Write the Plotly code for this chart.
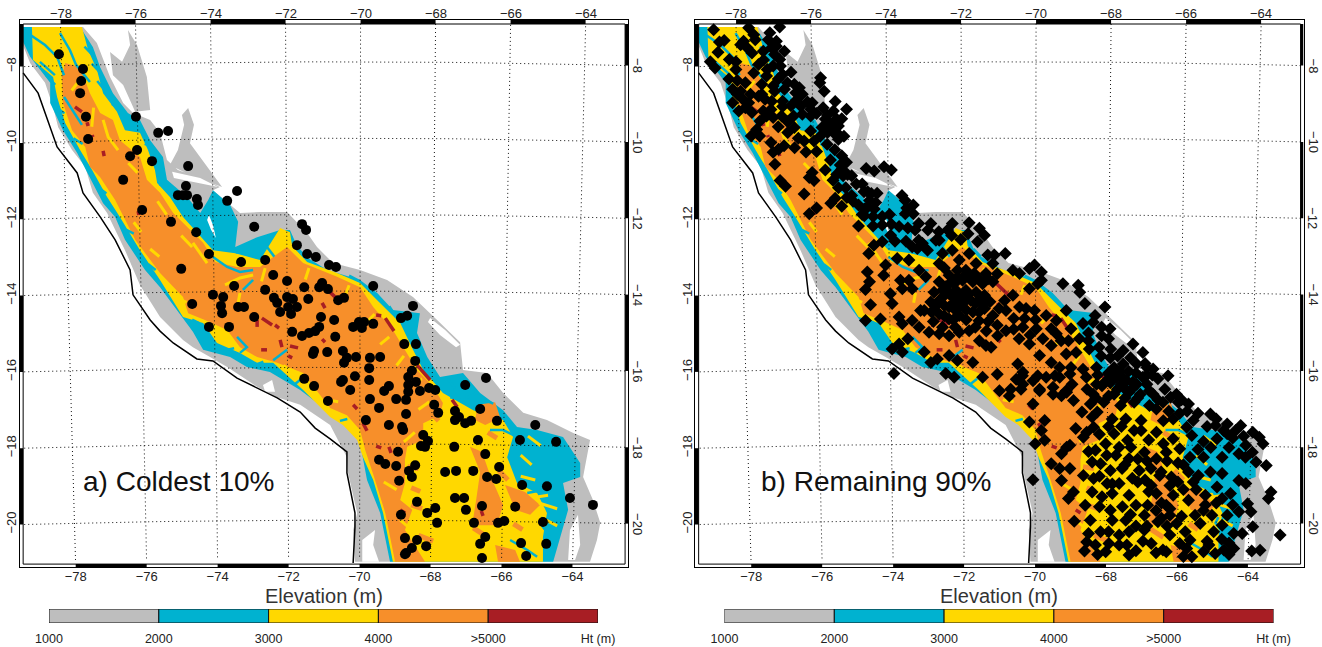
import plotly.graph_objects as go

W, H = 1322, 647
LON_TICKS = [-78, -76, -74, -72, -70, -68, -66, -64]
LAT_TICKS = [-8, -10, -12, -14, -16, -18, -20]
LEVELS = [1000, 2000, 3000, 4000, 5000, 6000]
LEVEL_LABELS = ["1000", "2000", "3000", "4000", ">5000", "Ht (m)"]
COLORS = {"gray": "#BEBEBE", "blue": "#00B2D0", "yellow": "#FFD800", "orange": "#F78F2A", "red": "#A81E24"}

GRAY = [(-79.26,-7.09),(-77.59,-7.09),(-77.21,-7.51),(-76.85,-8.40),(-76.49,-9.08),(-76.22,-9.34),(-75.75,-9.52),(-75.48,-9.86),(-75.29,-10.57),(-74.99,-10.83),(-74.25,-11.09),(-73.84,-11.28),(-74.03,-11.36),(-73.29,-11.96),(-72.74,-11.93),(-72,-11.93),(-71.45,-12.48),(-71.18,-12.85),(-70.74,-13.27),(-70,-13.45),(-69.26,-13.71),(-68.55,-14.16),(-67.89,-14.76),(-67.26,-15.34),(-67.18,-16.07),(-66.52,-16.15),(-66.08,-16.67),(-65.53,-17.19),(-64.88,-17.38),(-64.16,-17.72),(-63.70,-17.90),(-63.78,-18.35),(-63.89,-18.87),(-63.62,-19.47),(-63.42,-20.07),(-63.51,-20.52),(-63.70,-21.09),(-70.14,-21.09),(-70.19,-20.26),(-70.08,-19.81),(-70.33,-18.76),(-70.36,-18.35),(-70.82,-17.51),(-71.64,-16.98),(-72.27,-16.78),(-72.82,-16.51),(-73.64,-15.99),(-74.11,-15.73),(-74.58,-15.47),(-74.85,-15.28),(-75.48,-14.68),(-76.03,-13.84),(-76.44,-12.93),(-76.93,-11.96),(-77.32,-11.43),(-77.53,-10.75),(-77.89,-10.31),(-78.27,-9.71),(-78.41,-9.18),(-78.63,-8.55),(-79.04,-8.03),(-79.26,-7.51)]
GRAY_NORTH = [(-76.36,-7.17),(-76.11,-7.56),(-75.84,-8.40),(-75.75,-9.26),(-76.16,-9.31),(-76.49,-8.61),(-76.77,-8.35),(-76.85,-7.74),(-76.52,-8.0),(-76.30,-7.56)]
GRAY_SPIKE = [(-74.71,-9.21),(-74.55,-9.65),(-74.66,-10.13),(-74.19,-10.75),(-73.78,-11.28),(-74.66,-10.96),(-75.21,-10.70),(-74.99,-10.31),(-74.82,-9.65),(-74.88,-9.39)]
BARE_1 = [(-75.15,-10.88),(-74.38,-11.04),(-73.89,-11.28),(-74.44,-11.17),(-75.10,-11.04)]
BARE_2 = [(-74.14,-12.01),(-74.03,-12.27),(-73.95,-12.61),(-74.08,-12.40),(-74.19,-12.14)]
BARE_3 = [(-68.08,-14.71),(-67.67,-15.02),(-67.26,-15.41),(-67.37,-15.47),(-67.81,-15.15),(-68.14,-14.81)]
BARE_4 = [(-69.94,-20.52),(-69.59,-20.26),(-69.64,-20.65),(-69.48,-21.09),(-69.94,-21.09)]
BARE_5 = [(-72.66,-16.46),(-72.41,-16.33),(-72.33,-16.64),(-72.60,-16.64)]
BARE_6 = [(-64.25,-20.26),(-64.03,-19.86),(-63.97,-20.65),(-64.11,-21.04),(-64.30,-21.04)]
BLUE = [(-79.23,-7.09),(-77.67,-7.09),(-77.32,-7.61),(-77.12,-8.14),(-76.77,-8.82),(-76.36,-9.34),(-76.03,-9.52),(-75.75,-10.05),(-75.40,-10.49),(-75.34,-10.83),(-75.29,-11.09),(-74.74,-11.54),(-74.38,-11.96),(-74.16,-11.62),(-74.03,-11.36),(-73.56,-11.75),(-73.34,-12.19),(-73.42,-12.85),(-72.82,-12.59),(-72.19,-12.40),(-71.92,-12.40),(-71.64,-13.01),(-70.90,-13.45),(-70,-13.71),(-69.53,-14.05),(-69.10,-14.50),(-68.36,-14.58),(-68.44,-15.10),(-68.16,-15.73),(-67.81,-16.25),(-67.18,-16.15),(-66.71,-16.67),(-66.08,-17.12),(-65.70,-17.56),(-65.15,-17.64),(-64.44,-17.82),(-63.97,-18.50),(-63.97,-18.87),(-64.44,-19.03),(-64.30,-19.73),(-64.52,-20.44),(-64.71,-21.09),(-69.18,-21.09),(-69.45,-19.81),(-69.81,-18.95),(-70,-17.98),(-70.36,-17.51),(-70.82,-17.19),(-71.64,-16.59),(-72.47,-16.12),(-73.10,-15.99),(-73.56,-15.73),(-74.30,-15.54),(-74.58,-15.07),(-75.48,-13.90),(-75.89,-13.45),(-76.44,-12.66),(-76.71,-12.06),(-77.04,-11.70),(-77.40,-11.02),(-77.75,-10.39),(-78.14,-9.79),(-78.49,-9.08),(-78.49,-8.55),(-79.04,-7.87),(-79.23,-7.48)]
YELLOW = [(-78.99,-7.09),(-77.62,-7.09),(-77.45,-7.69),(-77.21,-8.21),(-77.04,-8.82),(-76.66,-9.31),(-76.44,-9.79),(-76.03,-9.86),(-75.81,-10.31),(-75.62,-10.83),(-75.56,-11.17),(-75.21,-11.54),(-74.85,-12.06),(-74.03,-12.93),(-73.42,-13.01),(-72.74,-13.19),(-72.19,-12.35),(-71.92,-12.46),(-71.86,-12.82),(-71.45,-13.24),(-70.63,-13.53),(-70,-13.79),(-69.53,-14.24),(-68.90,-14.84),(-68.55,-15.54),(-68.27,-16.07),(-67.73,-16.67),(-66.90,-17.12),(-66.08,-17.38),(-65.81,-17.82),(-65.97,-18.35),(-65.70,-19.03),(-65.15,-19.29),(-64.88,-19.81),(-64.99,-20.44),(-64.99,-21.09),(-69.10,-21.09),(-69.37,-19.81),(-69.64,-18.95),(-69.92,-18.35),(-70.08,-17.90),(-70.47,-17.51),(-70.82,-17.30),(-71.56,-16.59),(-72.38,-15.88),(-72.82,-15.88),(-73.29,-15.62),(-73.92,-15.36),(-74.30,-14.84),(-74.85,-14.68),(-75.48,-13.71),(-76.03,-12.93),(-76.58,-12.06),(-76.93,-11.54),(-77.34,-10.83),(-77.67,-10.31),(-78.08,-9.60),(-78.30,-8.92),(-78.41,-8.40),(-78.96,-7.95)]
ORANGE_MAIN = [(-78.08,-8.03),(-77.67,-8.14),(-77.40,-8.82),(-77.12,-9.34),(-76.77,-9.52),(-76.58,-10.05),(-76.03,-10.49),(-75.84,-11.09),(-75.48,-11.43),(-75.12,-11.96),(-74.30,-12.74),(-73.97,-13.24),(-73.37,-13.37),(-72.74,-13.37),(-72.38,-13.11),(-72,-12.85),(-71.56,-13.27),(-70.63,-13.63),(-70,-13.90),(-69.64,-14.42),(-69.10,-15.02),(-68.82,-15.47),(-68.44,-16.07),(-68,-16.51),(-67.73,-16.93),(-67.81,-17.25),(-68.27,-17.46),(-68.27,-17.90),(-68.71,-18.08),(-68.77,-18.42),(-68.77,-19.03),(-68.90,-19.47),(-68.57,-19.73),(-68.77,-20.26),(-68.22,-21.09),(-69.04,-21.09),(-69.31,-19.81),(-69.59,-18.95),(-69.86,-18.16),(-70,-17.64),(-70.36,-17.25),(-70.82,-17.06),(-71.56,-16.15),(-72.27,-15.88),(-72.82,-15.73),(-73.29,-15.47),(-73.64,-15.02),(-74.25,-14.76),(-74.71,-14.58),(-74.85,-14.16),(-75.48,-13.53),(-76.16,-12.66),(-76.49,-12.06),(-76.71,-11.62),(-77.12,-11.02),(-77.40,-10.75),(-77.53,-10.23),(-77.89,-9.79),(-78.14,-9.08),(-78.17,-8.40)]
ORANGE_SOUTH = [(-66.99,-18.08),(-66.66,-18.21),(-66.44,-18.82),(-66.08,-19.60),(-66.25,-20.13),(-66.93,-20.13),(-66.82,-19.47),(-66.71,-18.74)]
ORANGE_EAST = [(-66.03,-19.08),(-65.48,-19.26),(-65.07,-19.60),(-65.34,-19.86),(-65.75,-19.73)]
ORANGE_NE = [(-66.77,-16.98),(-66.30,-16.91),(-66.16,-17.32),(-66.57,-17.51),(-66.85,-17.38)]
ORANGE_SE = [(-66.30,-20.65),(-65.75,-20.78),(-65.62,-21.09),(-66.22,-21.09)]
BLUE_VALLEYS = [
    [(-79.10,-7.25),(-78.63,-7.56),(-78.30,-7.87),(-78.11,-8.35)],
    [(-78.22,-7.25),(-77.95,-7.69),(-77.78,-8.08),(-77.40,-8.53)],
    [(-78.77,-8.0),(-78.36,-8.35)],
    [(-78.11,-8.92),(-77.89,-9.26),(-77.62,-9.65)],
    [(-74.03,-13.11),(-73.64,-13.37),(-73.29,-13.50),(-72.93,-13.45)],
    [(-72.93,-13.71),(-73.21,-13.97)],
    [(-73.37,-15.20),(-73.10,-15.47),(-73.29,-15.62)],
    [(-72,-15.54),(-72.38,-15.81)],
    [(-67.53,-16.78),(-67.18,-16.85),(-66.79,-16.67)],
    [(-66.44,-17.64),(-66.08,-17.64),(-65.70,-17.82)],
    [(-65.89,-20.52),(-65.42,-20.78),(-65.15,-20.96)],
    [(-64.99,-19.92),(-65.07,-20.07),(-64.79,-20.44)],
    [(-65.42,-19.29),(-64.99,-19.21)],
    [(-77.55,-7.6),(-77.3,-7.85)],[(-77.35,-8.05),(-77.1,-8.3)],[(-77.2,-8.5),(-76.95,-8.8)],[(-76.8,-9.1),(-76.55,-9.25)],
    [(-76.3,-9.65),(-76.05,-9.7)],[(-75.9,-10.15),(-75.65,-10.25)],[(-75.7,-10.6),(-75.5,-10.7)],[(-75.5,-11.2),(-75.25,-11.3)],
    [(-75.1,-11.6),(-74.95,-11.85)],[(-74.3,-12.3),(-74.05,-12.55)],[(-73.65,-12.85),(-73.35,-13.0)],[(-72.55,-12.85),(-72.35,-13.1)],
    [(-71.7,-12.9),(-71.5,-13.1)],[(-70.3,-13.6),(-70.0,-13.75)],[(-69.2,-14.4),(-69.0,-14.7)],[(-68.7,-15.0),(-68.55,-15.3)],
    [(-68.35,-15.7),(-68.2,-16.0)],[(-67.6,-16.3),(-67.4,-16.55)],[(-66.6,-16.85),(-66.35,-16.95)],
    [(-78.6,-8.35),(-78.35,-8.6)],[(-78.3,-9.2),(-78.1,-9.35)],[(-77.85,-10.0),(-77.6,-10.15)],[(-77.15,-11.3),(-76.95,-11.45)],
    [(-76.4,-12.4),(-76.2,-12.5)],[(-75.8,-13.3),(-75.6,-13.45)],[(-74.6,-14.75),(-74.4,-14.85)],[(-73.7,-15.55),(-73.45,-15.5)],
    [(-72.9,-15.95),(-72.65,-15.85)],[(-71.8,-16.45),(-71.6,-16.3)],[(-70.55,-17.4),(-70.35,-17.35)],
]
YELLOW_RIDGES = [
    [(-77.04,-9.52),(-76.90,-9.97),(-76.63,-10.31)],
    [(-74.58,-12.74),(-74.19,-13.27)],
    [(-73.70,-13.84),(-73.29,-13.66),(-72.93,-13.58)],
    [(-73.29,-14.05),(-73.34,-14.31)],
    [(-73.78,-15.28),(-73.42,-15.41)],
    [(-65.2,-19.4),(-64.85,-19.35)],[(-65.1,-19.55),(-64.6,-19.7)],[(-64.9,-20.0),(-64.6,-20.15)],[(-65.4,-17.8),(-65.05,-18.05)],
    [(-65.6,-18.3),(-65.3,-18.55)],[(-65.6,-18.85),(-65.2,-18.95)],
    [(-77.7,-8.5),(-77.9,-8.75)],[(-77.3,-9.2),(-77.35,-9.7)],[(-76.35,-10.65),(-76.1,-10.9)],[(-75.55,-11.65),(-75.3,-12.0)],
    [(-74.9,-12.55),(-74.6,-12.85)],[(-75.75,-12.9),(-75.5,-13.1)],[(-76.2,-12.2),(-76,-12.45)],[(-75.0,-14.2),(-74.75,-14.3)],
    [(-72.6,-13.4),(-72.7,-13.75)],[(-71.4,-13.4),(-71.5,-13.7)],[(-70.3,-13.85),(-70.4,-14.1)],[(-69.6,-14.6),(-69.85,-14.85)],
    [(-69.2,-15.2),(-69.45,-15.4)],[(-68.8,-15.7),(-69.0,-15.95)],[(-68.3,-16.3),(-68.6,-16.4)],[(-72.1,-15.95),(-71.9,-16.1)],
    [(-70.9,-16.85),(-70.6,-16.9)],[(-68.5,-17.7),(-68.8,-17.95)],[(-68.1,-16.9),(-68.4,-17.1)],[(-69.35,-19.0),(-69.0,-19.2)],
    [(-68.9,-20.0),(-68.65,-20.2)],
]
ORANGE_TONGUES = [
    [(-68.1,-17.15),(-67.85,-17.4)],[(-68.6,-19.6),(-68.3,-19.7)],[(-68.4,-20.4),(-68.0,-20.55)],[(-68.7,-18.6),(-68.4,-18.65)],
    [(-68.6,-19.15),(-68.35,-19.25)],[(-66.5,-17.7),(-66.25,-17.85)],[(-66.9,-20.2),(-66.5,-20.45)],[(-65.8,-20.1),(-65.55,-20.25)],
    [(-66.2,-18.7),(-65.95,-18.95)],
]
RED_PATCHES = [
    [(-77.81,-9.18),(-77.62,-9.31)],[(-77.48,-9.58),(-77.45,-9.68)],[(-77.34,-9.92),(-77.32,-9.97)],
    [(-77.04,-10.33),(-77.01,-10.47)],[(-76.08,-11.91),(-76.06,-12.01)],[(-72.69,-14.71),(-72.41,-14.89)],
    [(-72.82,-14.76),(-72.82,-14.94)],[(-72.19,-15.28),(-72.14,-15.47)],[(-71.92,-15.44),(-71.70,-15.49)],
    [(-72.71,-15.54),(-72.55,-15.54)],[(-71.97,-15.70),(-71.86,-15.75)],[(-71.15,-13.74),(-70.68,-14.16)],
    [(-69.31,-14.71),(-69.07,-15.05)],[(-69.56,-14.63),(-69.42,-14.65)],[(-68.44,-15.94),(-68.08,-16.33)],
    [(-72.33,-14.89),(-72.22,-14.97)],[(-71.04,-15.26),(-70.96,-15.34)],[(-71.04,-14.31),(-70.96,-14.45)],
    [(-67.48,-16.85),(-67.34,-17.04)],[(-69.92,-17.46),(-69.81,-17.66)],[(-69.21,-18.08),(-69.15,-18.24)],
    [(-69.56,-18.06),(-69.42,-18.11)],[(-68.90,-19.73),(-68.77,-19.81)],[(-70.19,-16.98),(-70.08,-17.09)],
    [(-66.68,-19.76),(-66.63,-19.89)],
]
COAST = [(-79.23,-8.29),(-78.82,-8.82),(-78.30,-10.23),(-77.75,-10.91),(-77.59,-11.43),(-77.12,-12.06),(-76.71,-12.66),(-76.30,-13.45),(-76.22,-14.10),(-75.75,-14.76),(-75.48,-15.05),(-75.12,-15.36),(-74.47,-15.78),(-74.03,-15.83),(-73.37,-16.28),(-72.74,-16.59),(-72.27,-16.80),(-71.64,-17.17),(-71.23,-17.59),(-70.82,-17.87),(-70.36,-18.21),(-70.36,-18.76),(-70.14,-19.81),(-70.14,-20.18),(-70.19,-21.12)]

COLDEST = [(-78.25,-7.80),(-77.59,-8.19),(-77.64,-8.50),(-77.67,-8.82),(-77.51,-9.44),(-77.45,-10.02),(-76.14,-9.44),(-75.53,-9.86),(-75.26,-9.81),(-76.11,-10.31),(-76.30,-10.47),(-75.70,-10.60),(-74.71,-10.73),(-76.49,-11.09),(-74.77,-11.25),(-74.99,-11.49),(-74.85,-11.49),(-74.74,-11.49),(-74.47,-11.59),(-74.44,-11.75),(-73.64,-11.64),(-73.37,-11.38),(-75.97,-11.88),(-75.18,-12.19),(-74.49,-12.46),(-74.14,-13.03),(-74.90,-13.42),(-72.90,-12.32),(-71.59,-12.25),(-71.48,-12.40),(-71.73,-12.80),(-71.45,-13.03),(-71.21,-13.11),(-70.85,-13.32),(-70.66,-13.37),(-73.26,-13.24),(-72.60,-13.19),(-72.38,-13.58),(-72,-13.74),(-73.45,-13.87),(-72.60,-13.97),(-71.53,-13.90),(-71.04,-13.79),(-71.12,-13.90),(-70.88,-13.95),(-69.64,-13.87),(-74.03,-14.10),(-73.75,-14.16),(-73.81,-14.39),(-73.78,-14.58),(-74.60,-14.34),(-73.34,-14.42),(-73.18,-14.42),(-72.36,-14.18),(-72.27,-14.31),(-72,-14.16),(-71.84,-14.21),(-71.42,-14.21),(-70.60,-14.24),(-70.44,-14.18),(-71.97,-14.42),(-71.73,-14.42),(-72.19,-14.55),(-71.89,-14.60),(-72.90,-14.68),(-74.14,-14.94),(-73.59,-14.94),(-71.07,-14.68),(-70.71,-14.76),(-71.86,-15.07),(-71.59,-15.18),(-71.40,-15.10),(-71.23,-15.05),(-71.12,-14.94),(-70.19,-14.94),(-70.03,-14.81),(-69.89,-14.81),(-69.95,-14.97),(-69.64,-14.86),(-70.68,-15.20),(-68.55,-14.39),(-68.88,-14.71),(-68.71,-14.65),(-68.79,-15.39),(-68.47,-15.39),(-70.47,-15.57),(-71.26,-15.57),(-71.29,-15.65),(-70.90,-15.60),(-70.36,-15.75),(-70.44,-15.88),(-70.11,-15.73),(-69.73,-15.75),(-69.45,-15.73),(-69.75,-16.02),(-68.49,-15.83),(-68.58,-16.09),(-68.68,-16.25),(-70.14,-16.23),(-70.47,-16.33),(-70.52,-16.38),(-69.75,-16.33),(-71.53,-16.30),(-71.26,-16.49),(-68.47,-16.38),(-68.68,-16.46),(-69.21,-16.49),(-69.34,-16.62),(-70.27,-16.59),(-68.68,-16.64),(-68.36,-16.62),(-68.11,-16.54),(-67.94,-16.59),(-69.73,-16.83),(-70.88,-16.88),(-69.01,-16.83),(-68.74,-16.85),(-67.12,-16.46),(-66.55,-16.28),(-67.97,-16.98),(-67.86,-17.19),(-69.48,-17.06),(-68.74,-17.22),(-67.40,-17.14),(-67.29,-17.30),(-67.40,-17.38),(-67.12,-17.46),(-66.96,-17.40),(-66.71,-17.09),(-69.84,-17.38),(-69.21,-17.51),(-68.85,-17.56),(-68.82,-17.64),(-66.25,-17.40),(-65.20,-17.51),(-65.62,-17.90),(-64.63,-17.95),(-68.27,-17.77),(-68.14,-17.93),(-68.33,-18.06),(-68.22,-18.08),(-66.77,-17.90),(-67.42,-18.08),(-66.57,-18.27),(-68.96,-18.21),(-69.48,-18.42),(-69.31,-18.53),(-69.01,-18.58),(-68.49,-18.56),(-68.66,-18.71),(-68.58,-18.87),(-68.93,-18.97),(-67.67,-18.74),(-67.37,-18.71),(-66.90,-18.71),(-66.19,-18.61),(-66.52,-18.87),(-66.27,-18.92),(-65.56,-19.08),(-64.88,-19.11),(-64.25,-19.42),(-63.62,-19.60),(-68.44,-19.52),(-67.40,-19.42),(-67.15,-19.42),(-66.66,-19.63),(-65.75,-19.65),(-67.94,-19.68),(-67.10,-19.73),(-68.16,-19.81),(-68.88,-19.86),(-67.89,-20.07),(-66.88,-20.07),(-66.22,-20.07),(-66.05,-20.02),(-64.99,-20.05),(-66.57,-20.44),(-66.71,-20.62),(-65.59,-20.60),(-64.90,-20.62),(-68.77,-20.47),(-68.44,-20.52),(-68.19,-20.68),(-68.58,-20.73),(-68.74,-20.86),(-68.77,-20.89),(-65.45,-20.94),(-66.66,-20.99)]

REMAINING = [(-77.01,-7.09),(-78.82,-7.16),(-77.86,-7.11),(-77.72,-7.29),(-77.28,-7.24),(-77.68,-7.42),(-78.66,-7.48),(-78.53,-7.44),(-78.0,-7.46),(-78.08,-7.55),(-77.32,-7.42),(-77.10,-7.46),(-77.10,-7.59),(-77.23,-7.63),(-77.46,-7.72),(-77.9,-7.63),(-77.77,-7.77),(-78.7,-7.75),(-76.88,-7.72),(-77.15,-7.81),(-78.39,-7.94),(-78.21,-8.0),(-78.91,-8.0),(-78.78,-8.16),(-77.59,-8.07),(-77.72,-8.29),(-78.21,-8.2),(-77.01,-7.94),(-76.99,-8.11),(-77.19,-8.11),(-76.93,-8.33),(-76.70,-8.27),(-77.37,-8.37),(-78.17,-8.49),(-77.95,-8.55),(-77.5,-8.59),(-77.19,-8.63),(-76.61,-8.59),(-76.47,-8.68),(-75.89,-8.42),(-75.91,-8.55),(-75.79,-8.77),(-78.30,-8.72),(-78.17,-8.85),(-78.08,-8.77),(-77.81,-8.85),(-77.59,-8.90),(-77.15,-8.77),(-76.88,-8.72),(-76.57,-8.81),(-76.39,-8.85),(-75.49,-9.04),(-75.18,-9.24),(-75.82,-9.2),(-76.12,-9.07),(-78.30,-9.07),(-77.86,-9.07),(-77.41,-8.98),(-77.23,-9.03),(-76.93,-9.03),(-76.93,-9.17),(-76.43,-9.16),(-76.16,-9.24),(-78.13,-9.29),(-77.77,-9.33),(-77.46,-9.29),(-77.37,-9.42),(-77.19,-9.46),(-76.96,-9.42),(-76.63,-9.42),(-76.39,-9.37),(-76.16,-9.42),(-75.54,-9.29),(-75.31,-9.49),(-75.76,-9.50),(-75.62,-9.63),(-75.40,-9.68),(-76.79,-9.57),(-75.85,-9.72),(-76.61,-9.72),(-77.64,-9.77),(-76.16,-9.81),(-75.54,-9.85),(-76.79,-9.85),(-77.79,-9.94),(-77.56,-9.94),(-76.34,-10.07),(-76.07,-10.07),(-75.40,-10.03),(-77.25,-10.11),(-76.89,-10.2),(-75.71,-10.16),(-75.31,-10.46),(-77.19,-10.37),(-77.04,-10.29),(-76.29,-10.36),(-75.62,-10.57),(-75.18,-10.63),(-77.14,-10.68),(-75.76,-10.83),(-75.31,-10.81),(-74.64,-10.79),(-74.42,-10.86),(-74.15,-10.75),(-73.95,-10.83),(-76.12,-10.9),(-76.2,-11.03),(-76.07,-11.11),(-77.0,-11.11),(-76.85,-11.26),(-75.27,-10.98),(-75.04,-10.98),(-74.91,-11.2),(-76.34,-11.46),(-74.6,-11.4),(-74.34,-11.44),(-73.66,-11.5),(-73.57,-11.63),(-75.49,-11.57),(-75.61,-11.70),(-75.31,-11.78),(-75.04,-11.5),(-75.17,-11.55),(-74.55,-11.63),(-74.38,-11.68),(-74.69,-11.85),(-73.35,-11.75),(-73.53,-11.83),(-73.57,-11.98),(-73.35,-11.98),(-76.20,-11.98),(-76.0,-11.83),(-74.69,-12.03),(-74.42,-11.85),
(-74.2,-12.27),(-73.74,-12.31),(-73.2,-12.23),(-72.87,-12.23),(-71.82,-12.21),(-71.54,-12.36),(-71.4,-12.54),(-71.59,-12.71),(-72.64,-12.67),(-72.41,-12.4),(-72.28,-12.23),(-73.97,-12.54),(-73.38,-12.84),(-73.2,-12.67),(-72.73,-12.67),(-74.2,-12.71),(-74.43,-12.8),(-74.57,-13.02),(-73.24,-12.89),(-73.1,-12.75),(-72.96,-12.93),(-72.55,-13.02),(-72.28,-12.93),(-71.82,-13.02),(-71.31,-13.06),(-71.13,-13.06),(-70.83,-13.02),(-73.79,-13.15),(-73.47,-13.19),(-74.11,-13.32),(-73.19,-13.46),(-72.64,-13.28),(-72.09,-13.19),(-71.63,-13.28),(-71.17,-13.28),(-70.03,-13.32),(-70.17,-13.41),(-70.62,-13.46),(-70.44,-13.54),(-69.84,-13.5),(-69.84,-13.72),(-69.94,-13.81),(-69.25,-13.81),(-68.83,-13.85),(-68.79,-14.03),(-74.61,-13.5),(-74.16,-13.59),(-74.55,-13.76),(-74.66,-13.96),(-73.98,-14.07),(-73.7,-13.72),(-73.47,-13.72),(-73.65,-13.94),(-73.38,-13.94),(-73.01,-13.63),(-72.64,-13.76),(-72.37,-13.59),(-72.14,-13.46),(-71.91,-13.46),(-71.68,-13.54),(-71.36,-13.54),(-71.17,-13.76),(-71.45,-13.81),(-71.72,-13.76),(-72,-13.72),(-72.23,-13.81),(-72.46,-13.89),(-72.78,-14.03),(-72.18,-13.98),(-71.91,-13.98),(-71.63,-14.03),(-72,-14.16),(-72.28,-14.16),(-71.77,-14.25),(-72.05,-14.38),(-72.37,-14.42),(-72.64,-14.25),(-72.87,-14.29),(-73.05,-14.51),(-71.4,-14.11),(-70.85,-14.25),(-70.62,-14.11),(-70.17,-13.94),(-71.0,-14.46),(-70.44,-14.42),(-74.52,-14.36),(-73.93,-14.33),(-73.74,-14.68),(-73.15,-14.51),(-74.25,-14.73),(-74.66,-14.77),(-73.65,-14.86),(-73.38,-14.77),(-73.19,-14.95),(-72.64,-14.6),(-72.37,-14.73),(-72.09,-14.64),(-71.72,-14.55),(-71.4,-14.46),(-71.17,-14.64),(-70.81,-14.51),(-70.26,-14.46),(-70.03,-14.51),(-69.71,-14.64),(-69.43,-14.77),(-69.16,-14.51),(-68.65,-14.33),(-68.1,-14.42),(-68.37,-14.64),(-68.42,-14.82),(-68.19,-14.95),(-67.96,-14.99),(-68.19,-15.17),(-68.0,-15.25),(-69.03,-14.99),(-69.43,-15.12),(-69.57,-14.99),(-69.98,-14.99),(-70.35,-14.95),(-70.81,-15.04),(-71.04,-15.17),(-71.36,-15.43),(-71.22,-15.47),(-71.54,-15.3),(-71.82,-15.04),(-72.09,-15.08),(-72.37,-15.17),(-72.64,-15.12),(-72.92,-15.08),(-73.5,-15.25),(-73.74,-15.39),(-73.93,-15.52),(-73.65,-15.6),(-73.05,-15.6),(-72.69,-15.78),(-72.87,-15.87),(-72.37,-15.69),(-72.14,-15.82),(-71.72,-15.87),(-73.88,-16.16),(-72.46,-16.16),(-72.23,-16.26),(-71.05,-16.18),(-71.45,-16.26),(-70.49,-15.91),(-70.35,-16.13),(-70.17,-15.39),(-69.89,-15.69),(-69.57,-15.87),(-69.34,-16.0),(-69.57,-15.43),(-69.16,-15.65),(-68.89,-15.61),(-69.03,-16.0),(-68.53,-15.52),(-68.26,-15.47),(-67.94,-15.52),(-67.6,-15.56),(-67.33,-15.39),(-67.06,-15.61),(-66.78,-16.04),(-67.6,-15.91),(-67.23,-15.91),(-67.85,-16.0),(-68.33,-16.0),(-68.61,-16.26),(-68.33,-16.44),(-68.06,-16.35),(-67.78,-16.26),(-67.5,-16.35),(-67.23,-16.44),(-66.95,-16.44),(-67.06,-16.26),(-69.34,-16.26),(-69.0,-16.44),(-69.71,-16.26),(-70.07,-16.35),(-70.35,-16.44),(-70.53,-16.31),(-70.99,-16.61),(-70.72,-16.75),(-69.89,-16.61),(-69.52,-16.7),(-69.16,-16.61),(-68.42,-16.7),(-67.85,-16.7),(-67.5,-16.61),(-67.13,-16.7),(-66.78,-16.7),
(-66.37,-16.22),(-66.97,-16.22),(-66.65,-16.30),(-67.34,-16.39),(-67.62,-16.26),(-67.99,-16.17),(-69.06,-16.17),(-69.47,-16.22),(-69.94,-16.22),(-70.36,-16.22),(-70.68,-16.57),(-70.4,-16.57),(-69.89,-16.57),(-69.52,-16.52),(-69.15,-16.65),(-68.59,-16.57),(-68.18,-16.48),(-67.76,-16.57),(-67.44,-16.65),(-66.88,-16.61),(-66.46,-16.57),(-66.14,-16.7),(-65.81,-16.96),(-66.09,-16.91),(-66.51,-16.91),(-66.88,-17.0),(-67.30,-16.91),(-67.67,-17.0),(-68.13,-16.91),(-68.5,-16.96),(-68.96,-16.87),(-69.29,-16.74),(-70.07,-16.96),(-70.17,-17.43),(-69.75,-17.39),(-69.84,-17.65),(-68.73,-17.17),(-68.31,-17.17),(-67.9,-17.35),(-68.41,-17.57),(-68.45,-17.3),(-67.85,-17.74),(-67.53,-17.35),(-67.11,-17.39),(-66.69,-17.09),(-66.23,-17.35),(-65.68,-17.39),(-65.21,-17.22),(-65.86,-17.57),(-65.07,-17.52),(-64.75,-17.48),(-64.38,-17.52),(-64.52,-17.65),(-63.87,-17.83),(-63.77,-18),(-64.06,-18.22),(-63.68,-18.57),(-63.96,-18.48),(-64.24,-18.04),(-64.75,-17.74),(-65.03,-17.87),(-65.4,-17.94),(-65.72,-17.78),(-66.23,-17.87),(-66.69,-17.7),(-67.11,-17.65),(-67.48,-17.91),(-70.01,-18.0),(-69.75,-17.91),(-69.06,-18.04),(-68.69,-17.83),(-68.08,-18),(-68.36,-18.17),(-67.71,-18.09),(-67.39,-18.09),(-67.02,-18.22),(-66.42,-18.22),(-66.05,-18.13),(-65.77,-18.35),(-65.4,-18.35),(-64.89,-18.35),(-64.43,-18.26),(-69.29,-18.26),(-69.15,-18.09),(-68.45,-18.48),(-67.8,-18.3),(-67.44,-18.39),(-66.69,-18.39),(-69.57,-18.52),(-69.34,-18.65),(-69.06,-18.65),(-68.69,-18.83),(-68.22,-18.52),(-67.95,-18.7),(-67.63,-18.65),(-67.16,-18.7),(-66.84,-18.65),(-66.56,-18.74),(-66.28,-18.87),(-65.81,-18.74),(-65.54,-18.83),(-65.21,-18.74),(-64.89,-18.78),(-64.43,-18.96),(-64.24,-19.04),(-69.29,-18.96),(-68.41,-18.91),(-68.04,-19.04),(-67.71,-19.04),(-67.2,-19),(-66.83,-19.09),(-66.6,-18.83),(-66.32,-19.09),(-65.68,-19),(-65.03,-19.13),(-64.66,-19.3),(-63.55,-19.26),(-63.62,-19.43),(-70.07,-18.94),(-69.1,-19.43),(-68.96,-19.26),(-68.45,-19.26),(-68.18,-19.39),(-67.9,-19.3),(-67.44,-19.35),(-66.93,-19.61),(-66.69,-19.3),(-66.23,-19.35),(-65.81,-19.48),(-65.35,-19.35),(-64.89,-19.43),(-64.19,-19.57),(-64.43,-19.78),(-68.64,-19.61),(-67.95,-19.74),(-67.62,-19.65),(-67.25,-19.61),(-67.02,-19.87),(-66.42,-19.61),(-66.32,-19.7),(-66.32,-19.87),(-65.63,-19.87),(-65.17,-19.87),(-64.75,-19.87),(-64.1,-19.78),(-68.94,-20.03),(-68.5,-20),(-67.9,-20),(-67.53,-20),(-66.65,-20.04),(-66.14,-20.09),(-65.49,-20.09),(-64.89,-20.13),(-64.05,-20.17),(-63.3,-20.39),(-68.55,-20.35),(-68.22,-20.3),(-67.71,-20.39),(-67.44,-20.3),(-67.02,-20.26),(-66.32,-20.39),(-65.77,-20.52),(-65.12,-20.3),(-64.57,-20.35),(-64.34,-20.35),(-68.6,-20.57),(-68.36,-20.65),(-67.99,-20.61),(-67.71,-20.65),(-67.06,-20.55),(-66.83,-20.61),(-66.51,-20.78),(-66.05,-20.61),(-65.4,-20.83),(-64.84,-20.78),(-64.57,-20.74),(-64.08,-20.81),(-63.85,-20.79),(-68.66,-20.81),(-68.08,-20.83),(-67.44,-20.91),(-66.42,-20.83),(-65.86,-20.74),(-65.08,-20.87),(-65.72,-20.96)]

REMAINING_DENSE = [(-72.5,-13.4),(-72.3,-13.75),(-72.15,-13.65),(-71.95,-13.6),(-71.8,-13.65),(-71.55,-13.68),(-71.3,-13.68),(-71.05,-13.55),(-72.55,-13.98),(-72.35,-14.05),(-72.1,-14.08),(-71.85,-14.1),(-71.5,-14.2),(-71.25,-14.28),(-72.5,-14.12),(-72.2,-14.28),(-71.95,-14.28),(-71.65,-14.32),(-71.45,-14.35),(-72.75,-14.4),(-72.5,-14.38),(-72.2,-14.5),(-71.9,-14.5),(-71.55,-14.55),(-72.85,-14.55),(-72.5,-14.65),(-72.25,-14.75),(-71.9,-14.75),(-71.55,-14.78),(-71.3,-14.8),(-72.8,-14.8),(-72.55,-14.95),(-72.2,-14.95),(-71.65,-14.95),(-71.35,-15.05),(-71.05,-14.9),(-70.6,-14.72),(-70.3,-14.72),(-70.0,-14.75),(-70.6,-15.0),(-70.15,-15.15),(-69.8,-15.25),(-70.45,-15.25),
(-69.3,-15.3),(-69.1,-15.3),(-68.8,-15.25),(-68.55,-15.1),(-68.55,-15.3),(-68.7,-14.85),(-68.2,-15.7),(-67.95,-15.75),(-67.75,-15.7),(-67.4,-15.75),(-67.0,-15.9),(-67.45,-16.1),(-67.7,-16.1),(-68.0,-16.15),(-68.3,-16.2),(-67.25,-16.15),(-66.8,-16.2),(-66.95,-16.0),(-68.7,-16.05),(-67.95,-16.4),(-67.65,-16.45),(-67.35,-16.55),(-68.35,-16.8),(-68.0,-16.75),(-67.55,-16.8),(-67.2,-16.8),(-66.65,-16.85),(-66.3,-16.78),(-66.0,-16.85),(-65.85,-17.15),(-66.05,-17.2),(-66.35,-17.15),(-65.55,-17.2),(-66.5,-17.4),(-65.3,-17.55),(-65.05,-17.35),(-64.85,-17.65),(-64.6,-17.85),(-64.3,-17.8),(-64.05,-17.7),(-65.2,-18.1),(-65.55,-18.15),(-64.7,-18.1),(-64.25,-18.35),(-65.95,-18.55),
(-77.45,-7.95),(-77.35,-8.2),(-77.05,-8.45),(-76.8,-8.55),(-76.55,-9.0),(-76.25,-9.05),(-76.0,-9.35),(-75.7,-9.4),(-75.45,-9.5),(-75.9,-9.95),(-75.7,-9.85),(-75.45,-9.85),(-75.25,-9.95),(-76.5,-10.0),(-76.6,-10.25),(-76.0,-10.35),(-75.5,-10.3),(-75.35,-10.7),(-75.45,-10.95),(-75.15,-10.95),(-75.55,-11.1),(-75.2,-11.3),(-75.4,-11.3),(-74.75,-11.2),(-74.7,-11.4),(-74.5,-11.45),(-75.0,-11.65),(-74.85,-11.75),(-74.6,-11.8),(-74.45,-12.05),(-74.2,-12.05),(-74.0,-12.0),(-74.75,-12.0),(-74.85,-12.3),(-74.45,-12.3),(-73.95,-12.25),(-73.5,-12.35),(-73.3,-12.4),(-72.95,-12.4),(-72.65,-12.45),(-72.3,-12.55),(-72.05,-12.65),(-71.85,-12.5),(-73.85,-12.7),(-73.55,-12.7),(-78.4,-8.45),(-78.0,-9.0),(-77.95,-9.2),(-77.5,-8.85),(-77.25,-9.25),(-76.7,-9.15),(-77.55,-9.55),(-77.05,-9.7),
(-68.9,-17.6),(-68.6,-17.7),(-68.25,-17.75),(-68.0,-17.55),(-67.65,-17.55),(-67.3,-17.65),(-66.9,-17.9),(-66.5,-18.0),(-68.55,-18.2),(-68.05,-18.3),(-67.55,-18.55),(-67.2,-18.4),(-66.95,-18.45),(-66.4,-18.45),(-66.1,-18.5),(-67.35,-18.9),(-67.0,-18.95),(-66.1,-19.0),(-68.25,-18.85),(-67.9,-19.05),(-66.9,-19.25),(-66.55,-19.55),(-65.95,-19.2),(-65.6,-19.2),(-65.35,-19.6),(-65.05,-19.55),(-64.6,-19.6),(-66.7,-19.75),(-66.55,-19.95),(-66.0,-19.9),(-65.4,-19.75),(-68.25,-19.65),(-67.4,-19.85),(-66.95,-20.15),(-66.4,-20.15),(-65.9,-20.3),(-65.3,-20.55),(-64.9,-20.5),(-64.7,-20.6),(-67.25,-20.15),(-68.0,-20.3),(-67.5,-20.65),(-67.25,-20.8),(-66.7,-20.85),(-65.95,-20.95),(-65.25,-20.65),(-64.7,-20.9),(-68.3,-20.9)]

PANELS = [
    {"title": "a) Coldest 10%", "left": 19.5, "right": 628, "cbl": 49, "cbr": 598, "pts": COLDEST, "sym": "circle", "tx": 178},
    {"title": "b) Remaining 90%", "left": 695, "right": 1303.5, "cbl": 724.5, "cbr": 1273.5, "pts": REMAINING + REMAINING_DENSE, "sym": "diamond", "tx": 876},
]
LON_RANGE = [-79.33, -62.66]
LAT_RANGE = [-21.226, -6.905]
INNER_LON = [-79.23, -62.74]
INNER_LAT = [-21.15, -7.01]


def app_lon(lon, lat):
    k = 37.5 - (-7 - lat) / 14 * 2
    return -70.5 + (lon + 70.5) * k / 36.5


def app_lat(lon, lat):
    return lat - 0.00157 * (app_lon(lon, lat) + 70.5) ** 2


def xy(pairs):
    return [p[0] for p in pairs], [p[1] for p in pairs]


def joined(groups):
    xs, ys = [], []
    for g in groups:
        a, b = xy(g)
        xs += a + [None]
        ys += b + [None]
    return xs, ys


fig = go.Figure()
layout = {}
shapes, annots = [], []

for i, p in enumerate(PANELS):
    n = 2 * i + 1
    xa, ya = f"x{n}", f"y{n}"
    xb, yb = f"x{n+1}", f"y{n+1}"

    def area(groups, color):
        xs, ys = joined(groups)
        fig.add_trace(go.Scatter(x=xs, y=ys, xaxis=xa, yaxis=ya, mode="lines", fill="toself",
                                 fillcolor=color, line=dict(width=0), hoverinfo="skip", showlegend=False))

    def lines(groups, color, width, dash="solid"):
        xs, ys = joined(groups)
        fig.add_trace(go.Scatter(x=xs, y=ys, xaxis=xa, yaxis=ya, mode="lines",
                                 line=dict(color=color, width=width, dash=dash), hoverinfo="skip", showlegend=False))

    area([GRAY, GRAY_NORTH, GRAY_SPIKE], COLORS["gray"])
    area([BLUE], COLORS["blue"])
    area([BARE_1, BARE_2, BARE_3, BARE_4, BARE_5, BARE_6], "#FFFFFF")
    area([YELLOW], COLORS["yellow"])
    area([ORANGE_MAIN, ORANGE_SOUTH, ORANGE_EAST, ORANGE_NE, ORANGE_SE], COLORS["orange"])
    lines(ORANGE_TONGUES, COLORS["orange"], 5)
    lines(YELLOW_RIDGES, COLORS["yellow"], 3)
    lines(BLUE_VALLEYS, COLORS["blue"], 2.5)
    lines(RED_PATCHES, COLORS["red"], 3.5)

    grid = []
    for lon in LON_TICKS:
        grid.append([(app_lon(lon, -7 - j * 0.5), app_lat(lon, -7 - j * 0.5)) for j in range(29)])
    for lat in LAT_TICKS:
        grid.append([(-79.2 + j * 0.5, app_lat(-79.2 + j * 0.5, lat)) for j in range(34)])
    lines(grid, "#111111", 1, "1px,3px")
    lines([COAST], "#000000", 1.5)

    px, py = xy(p["pts"])
    fig.add_trace(go.Scatter(x=px, y=py, xaxis=xa, yaxis=ya, mode="markers",
                             marker=dict(symbol=p["sym"], size=10, color="#000000"),
                             hoverinfo="skip", showlegend=False))

    bottom = [app_lon(v, -21.15) for v in LON_TICKS]
    left = [app_lat(-79.23, v) for v in LAT_TICKS]
    top = [app_lon(v, -7.0) for v in LON_TICKS]
    right = [app_lat(-62.74, v) for v in LAT_TICKS]
    labs_lon = [f"\u2212{abs(v)}" for v in LON_TICKS]
    labs_lat = [f"\u2212{abs(v)}" for v in LAT_TICKS]
    tfont = dict(family="Liberation Sans", size=13, color="#222222")

    layout[f"xaxis{n}"] = dict(domain=[p["left"] / W, p["right"] / W], range=LON_RANGE, anchor=ya,
                               showgrid=False, zeroline=False, showline=True, linecolor="#000000", linewidth=1, mirror=True,
                               tickmode="array", tickvals=bottom, ticktext=labs_lon, ticks="", tickfont=tfont, tickangle=0,
                               ticklabelstandoff=-3)
    layout[f"yaxis{n}"] = dict(domain=[1 - 567 / H, 1 - 20 / H], range=LAT_RANGE, anchor=xa,
                               showgrid=False, zeroline=False, showline=True, linecolor="#000000", linewidth=1, mirror=True,
                               tickmode="array", tickvals=left, ticktext=labs_lat, ticks="", tickfont=tfont, tickangle=-90,
                               ticklabelstandoff=-3)

    shapes.append(dict(type="rect", xref=xa, yref=ya, x0=INNER_LON[0], x1=INNER_LON[1], y0=INNER_LAT[0], y1=INNER_LAT[1],
                       line=dict(color="#000000", width=1)))
    for j in range(0, len(LON_TICKS) - 1, 2):
        shapes.append(dict(type="rect", xref=xa, yref=ya, x0=top[j], x1=top[j + 1], y0=INNER_LAT[1], y1=LAT_RANGE[1],
                           fillcolor="#000000", line=dict(width=0)))
        shapes.append(dict(type="rect", xref=xa, yref=ya, x0=bottom[j], x1=bottom[j + 1], y0=LAT_RANGE[0], y1=INNER_LAT[0],
                           fillcolor="#000000", line=dict(width=0)))
    lat_edges_l = [INNER_LAT[1]] + left
    lat_edges_r = [INNER_LAT[1]] + right
    for j in range(0, len(lat_edges_l) - 1, 2):
        shapes.append(dict(type="rect", xref=xa, yref=ya, x0=LON_RANGE[0], x1=INNER_LON[0], y0=lat_edges_l[j + 1], y1=lat_edges_l[j],
                           fillcolor="#000000", line=dict(width=0)))
        shapes.append(dict(type="rect", xref=xa, yref=ya, x0=INNER_LON[1], x1=LON_RANGE[1], y0=lat_edges_r[j + 1], y1=lat_edges_r[j],
                           fillcolor="#000000", line=dict(width=0)))

    for v, t in zip(top, labs_lon):
        annots.append(dict(x=v, y=LAT_RANGE[1], xref=xa, yref=ya, text=t, showarrow=False, xanchor="center", yanchor="bottom", yshift=-3, font=tfont))
    for v, t in zip(right, labs_lat):
        annots.append(dict(x=LON_RANGE[1], y=v, xref=xa, yref=ya, text=t, showarrow=False, xanchor="left", yanchor="middle", textangle=90, font=tfont))
    annots.append(dict(x=p["tx"] / W, y=1 - 481 / H, xref="paper", yref="paper", text=p["title"], showarrow=False,
                       xanchor="center", yanchor="middle", font=dict(family="Liberation Sans", size=28, color="#111111")))
    annots.append(dict(x=(p["cbl"] + p["cbr"]) / 2 / W, y=1 - 596 / H, xref="paper", yref="paper", text="Elevation (m)", showarrow=False,
                       xanchor="center", yanchor="middle", font=dict(family="Liberation Sans", size=20, color="#333333")))

    names = ["gray", "blue", "yellow", "orange", "red"]
    fig.add_trace(go.Bar(x=[LEVELS[k + 1] - LEVELS[k] for k in range(5)], y=[0] * 5, base=LEVELS[:5], orientation="h",
                         xaxis=xb, yaxis=yb, width=1, marker=dict(color=[COLORS[c] for c in names], line=dict(color="#111111", width=1)),
                         hoverinfo="skip", showlegend=False))
    layout[f"xaxis{n+1}"] = dict(domain=[p["cbl"] / W, p["cbr"] / W], range=[LEVELS[0], LEVELS[-1]], anchor=yb, showgrid=False,
                                 zeroline=False, tickmode="array", tickvals=LEVELS, ticktext=LEVEL_LABELS, ticks="outside", ticklen=4,
                                 tickcolor="rgba(0,0,0,0)", tickfont=dict(family="Liberation Sans", size=12.5, color="#222222"), tickangle=0)
    layout[f"yaxis{n+1}"] = dict(domain=[1 - 623 / H, 1 - 609 / H], range=[-0.5, 0.5], anchor=xb, visible=False)

fig.update_layout(width=W, height=H, margin=dict(l=0, r=0, t=0, b=0, autoexpand=False), paper_bgcolor="#FFFFFF", plot_bgcolor="#FFFFFF",
                  barmode="overlay", showlegend=False, shapes=shapes, annotations=annots, **layout)
fig.write_html("out.html", config={"displayModeBar": False}, post_script="document.body.style.margin='0';")
